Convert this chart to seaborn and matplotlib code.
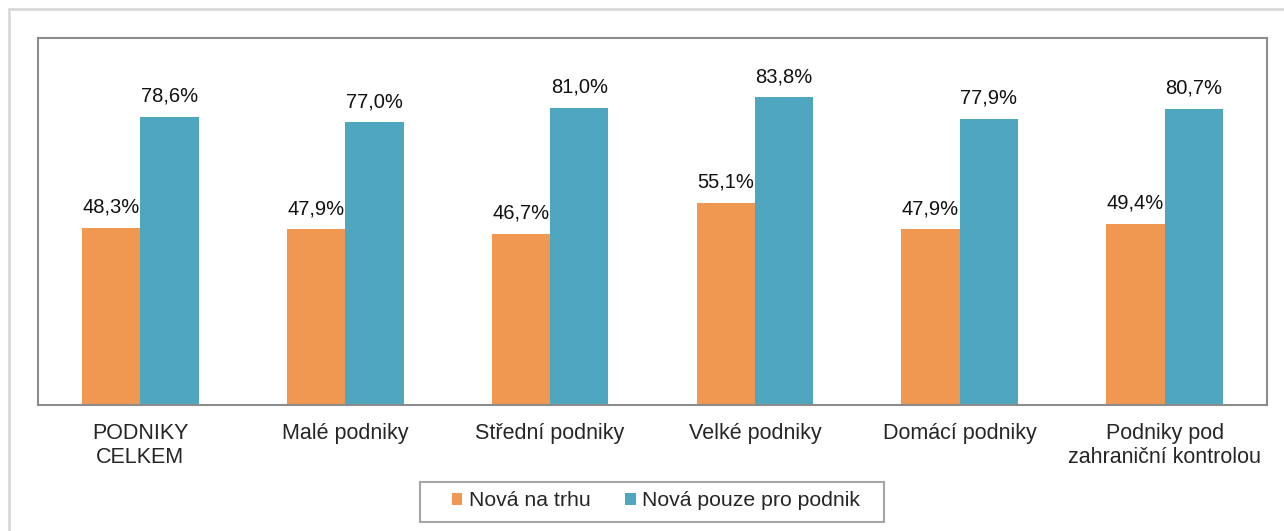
import pandas as pd
import matplotlib.pyplot as plt
import matplotlib.patches as mpatches
import seaborn as sns

categories = ['PODNIKY\nCELKEM', 'Malé podniky', 'Střední podniky', 'Velké podniky',
              'Domácí podniky', 'Podniky pod\nzahraniční kontrolou']
series_names = ['Nová na trhu', 'Nová pouze pro podnik']
new_market = [48.3, 47.9, 46.7, 55.1, 47.9, 49.4]
new_firm = [78.6, 77.0, 81.0, 83.8, 77.9, 80.7]
colors = ['#F09752', '#4EA7BF']

df = pd.DataFrame({
    'kategorie': categories * 2,
    'serie': [series_names[0]] * 6 + [series_names[1]] * 6,
    'hodnota': new_market + new_firm,
})

sns.set_style('white')
plt.rcParams['font.family'] = ['Liberation Sans', 'DejaVu Sans']

W, H = 1284, 531
fig = plt.figure(figsize=(W / 100, H / 100), dpi=100)
ax = fig.add_axes([38 / W, 1 - 405 / H, (1267 - 38) / W, (405 - 38) / H])

sns.barplot(data=df, x='kategorie', y='hodnota', hue='serie', palette=colors,
            width=0.57, saturation=1, linewidth=0, ax=ax)

for cont in ax.containers:
    labels = [f'{v:.1f}%'.replace('.', ',') for v in cont.datavalues]
    ax.bar_label(cont, labels=labels, padding=8, fontsize=14.5, color='#111111')

ax.set_ylim(0, 100)
ax.set_xlim(-0.5, 5.5)
ax.set_yticks([])
ax.set_xlabel('')
ax.set_ylabel('')
ax.tick_params(axis='x', length=0, labelsize=15.5, pad=13)
for s in ax.spines.values():
    s.set_color('#8C8C8C')
    s.set_linewidth(1.5)

# legend without its own frame, box drawn separately (wider side padding as in the original)
ax.legend(loc='center', bbox_to_anchor=(656 / W, 1 - 501 / H),
          bbox_transform=fig.transFigure, ncol=2, frameon=False,
          fontsize=15.3, handlelength=0.48, handleheight=0.48, handletextpad=0.3,
          columnspacing=1.65, borderpad=0)
fig.patches.append(mpatches.Rectangle((420 / W, 1 - 522 / H), 464 / W, 40 / H,
                                      transform=fig.transFigure, fill=False,
                                      edgecolor='#A6A6A6', linewidth=1.5))

fig.patches.append(mpatches.Rectangle((9 / W, -0.05), 1.1, 1 - 9 / H + 0.05,
                                      transform=fig.transFigure, fill=False,
                                      edgecolor='#D9D9D9', linewidth=2))

fig.savefig('out.png', dpi=100)
